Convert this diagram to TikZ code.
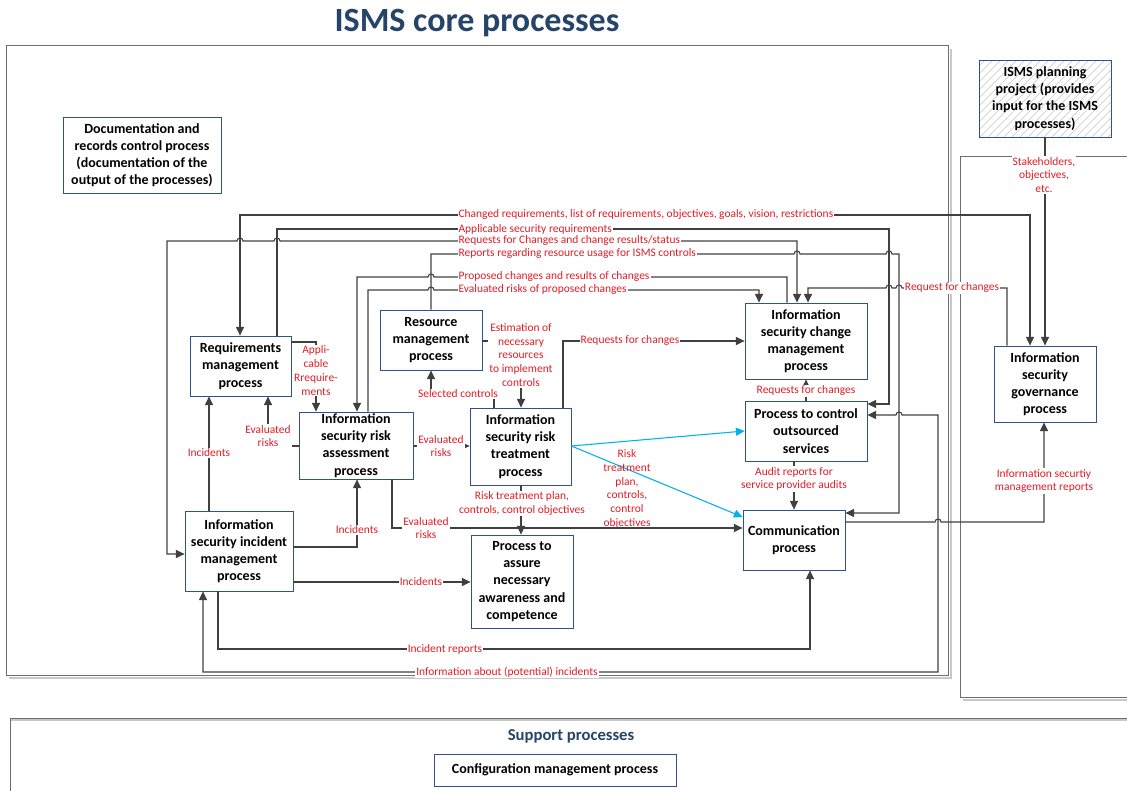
\documentclass[tikz,border=0pt]{standalone}
\usepackage{fontspec}
\setmainfont{Carlito}
\usetikzlibrary{arrows.meta}
\definecolor{titleblue}{RGB}{38,68,105}
\definecolor{boxblue}{RGB}{47,82,143}
\definecolor{lblred}{RGB}{222,30,40}
\definecolor{linegray}{RGB}{64,64,64}
\definecolor{framegray}{RGB}{110,110,110}
\definecolor{shadegray}{RGB}{200,200,200}
\definecolor{flowblue}{RGB}{0,176,240}
\newcommand{\ismsboxfont}{\fontsize{10.5}{12.9}\selectfont\bfseries}
\newcommand{\ismslblfont}{\fontsize{8.6}{10.3}\selectfont}
\tikzset{every picture/.style={line width=0.75pt}}
\tikzset{
  box/.style 2 args={draw=boxblue, line width=0.6pt, fill=white, minimum width=#1*0.75pt, minimum height=#2*0.75pt, inner sep=1pt, align=center, font=\ismsboxfont},
  lbl/.style={text=lblred, fill=white, inner sep=0.8pt, align=center, font=\ismslblfont},
  conn/.style={draw=linegray, line width=0.8pt, >={Triangle[length=6.5pt,width=6pt]}},
  flow/.style={draw=flowblue, line width=0.8pt, >={Triangle[length=6.5pt,width=6pt]}},
  coreframe/.style={draw=framegray, line width=0.75pt},
  frameshadow/.style={draw=shadegray, line width=2pt}
}

\begin{document}
\begin{tikzpicture}[x=0.75pt,y=0.75pt,yscale=-1,xscale=1]
\useasboundingbox (0,0) rectangle (1127,791);

% Text Node
\node[font=\fontsize{25.5}{30}\selectfont\bfseries, text=titleblue] (title) at (477,23) {ISMS core processes};

%Shape: Core frame
\draw[frameshadow] (951,49) -- (951,678) -- (9,678);
\draw[coreframe] (6,46) rectangle (948,675);
%Shape: Right frame
\draw[frameshadow] (963,700) -- (1127,700);
\draw[coreframe] (1127,157) -- (960,157) -- (960,697) -- (1127,697);
%Shape: Support frame
\draw[frameshadow] (10,720) -- (1127,720);
\draw[coreframe] (1127,718) -- (10,718) -- (10,791);

%Shape: hatching of the planning box
\begin{scope}
\clip (979,60) rectangle (1111,137);
\foreach \k in {900,908,...,1112}
  \draw[gray!45, line width=0.4pt] (\k,137) -- (\k+77,60);
\end{scope}

%Shape: Process boxes
\node[box={158}{76}] (doc) at (142,155) {Documentation and\\records control process\\(documentation of the\\output of the processes)};
\node[box={132}{77}, fill=none] (plan) at (1045,98.5) {ISMS planning\\project (provides\\input for the ISMS\\processes)};
\node[box={102}{76}] (gov) at (1045,384) {Information\\security\\governance\\process};
\node[box={101}{60}] (req) at (240.5,366) {Requirements\\management\\process};
\node[box={102}{60}] (res) at (431,340) {Resource\\management\\process};
\node[box={114}{67}] (assess) at (356,445.5) {Information\\security risk\\assessment\\process};
\node[box={101}{77}] (treat) at (520.5,446.5) {Information\\security risk\\treatment\\process};
\node[box={122}{76}] (change) at (806,341) {Information\\security change\\management\\process};
\node[box={122}{60}] (outsrc) at (806,431) {Process to control\\outsourced\\services};
\node[box={102}{60}] (comm) at (794,540) {Communication\\process};
\node[box={108}{80}] (incid) at (239,551) {Information\\security incident\\management\\process};
\node[box={102}{93}] (aware) at (522,581.5) {Process to\\assure\\necessary\\awareness and\\competence};
\node[box={242}{32}] (config) at (555,770) {Configuration management process};
% Text Node
\node[font=\fontsize{12.5}{15}\selectfont\bfseries, text=titleblue] (support) at (571,736) {Support processes};

%Straight Lines: top bus
\draw[conn,<->] (req.north -| 240,0) |- (1030,215) -- (gov.north -| 1030,0);
\draw[conn,->] (req.north -| 277,0) |- (889,229) |- (outsrc.east |- 0,404);
\draw[conn,<->] (incid.west |- 0,554) -| (167,241) -- (237,241) .. controls (237,237) and (243,237) .. (243,241) -- (274,241) .. controls (274,237) and (280,237) .. (280,241) -| (change.north -| 797,0);
\draw[conn,->] (res.north -| 431,0) |- (794,254) .. controls (794,250) and (800,250) .. (800,254) -- (886,254) .. controls (886,250) and (892,250) .. (892,254) -| (899,513) -- (comm.east |- 0,513);
\draw[conn,->] (change.north -| 787,0) |- (434,277) .. controls (434,273) and (428,273) .. (428,277) -| (assess.north -| 357,0);
\draw[conn,->] (assess.north -| 368,0) |- (428,290) .. controls (428,286) and (434,286) .. (434,290) -| (change.north -| 759,0);
\draw[conn,->] (gov.north -| 1007,0) |- (902,288) .. controls (902,284) and (896,284) .. (896,288) -- (892,288) .. controls (892,284) and (886,284) .. (886,288) -| (change.north -| 808,0);
\draw[conn,->] (plan.south) -- (gov.north);

%Straight Lines: inner flows
\draw[conn,->] (req.east |- 0,342) -| (assess.north -| 316,0);
\draw[conn,->] (assess.west |- 0,446) -| (req.south -| 268,0);
\draw[conn,->] (incid.north -| 209,0) -- (req.south -| 209,0);
\draw[conn,->] (assess.east |- 0,446) -- (treat.west |- 0,446);
\draw[conn,->] (treat.north -| 494,0) |- (431,394) -- (res.south -| 431,0);
\draw[conn,->] (res.east |- 0,341) -| (treat.north -| 521,0);
\draw[conn,->] (treat.north -| 563,0) |- (change.west |- 0,341);
\draw[flow,->] (treat.east |- 0,446) -- (outsrc.west |- 0,431);
\draw[flow,->] (treat.east |- 0,446) -- (comm.west |- 0,517);
\draw[conn,->] (outsrc.north) -- (change.south);
\draw[conn,->] (outsrc.south -| comm.north) -- (comm.north);
\draw[conn,->] (incid.east |- 0,547) -| (assess.south -| 357,0);
\draw[conn,->] (assess.south -| 392,0) |- (comm.west |- 0,528);
\draw[conn,->] (treat.south -| 521,0) -- (aware.north -| 521,0);
\draw[conn,->] (incid.east |- 0,582) -- (aware.west |- 0,582);

%Straight Lines: bottom loops
\draw[conn,->] (incid.south -| 218,0) |- (810,649) -- (comm.south -| 810,0);
\draw[conn,<->] (incid.south -| 203,0) |- (938,672) -- (938,415) -- (902,415) .. controls (902,411) and (896,411) .. (896,415) -- (outsrc.east |- 0,415);
\draw[conn,->] (comm.east |- 0,522) -- (935,522) .. controls (935,518) and (941,518) .. (941,522) -| (gov.south -| 1044,0);

% Text Node: flow labels
\node[lbl, anchor=west] (lchg) at (457,215) {Changed requirements, list of requirements, objectives, goals, vision, restrictions};
\node[lbl, anchor=west] (lapp) at (457,229) {Applicable security requirements};
\node[lbl, anchor=west] (lrfc) at (457,241) {Requests for Changes and change results/status};
\node[lbl, anchor=west] (lrep) at (457,254) {Reports regarding resource usage for ISMS controls};
\node[lbl, anchor=west] (lprop) at (457,277) {Proposed changes and results of changes};
\node[lbl, anchor=west] (levp) at (457,290) {Evaluated risks of proposed changes};
\node[lbl] (lreqg) at (952,288) {Request for changes};
\node[lbl] (lstake) at (1044,175) {Stakeholders,\\objectives,\\etc.};
\node[lbl] (lgovrep) at (1044,481) {Information securtiy\\management reports};
\node[lbl] (lappreq) at (316,370.5) {Appli-\\cable\\Rrequire-\\ments};
\node[lbl] (levreq) at (268,436) {Evaluated\\risks};
\node[lbl] (lincreq) at (209,453) {Incidents};
\node[lbl] (levtrt) at (441,446) {Evaluated\\risks};
\node[lbl] (lsel) at (458,394) {Selected controls};
\node[lbl] (lest) at (521,355) {Estimation of\\necessary\\resources\\to implement\\controls};
\node[lbl] (lrfct) at (630,341) {Requests for changes};
\node[lbl] (lrfco) at (806,391) {Requests for changes};
\node[lbl] (laudit) at (794,479) {Audit reports for\\service provider audits};
\node[lbl, fill=none] (lrtp) at (627,489) {Risk\\treatment\\plan,\\controls,\\control\\objectives};
\node[lbl] (lrtpa) at (522,503.5) {Risk treatment plan,\\controls, control objectives};
\node[lbl] (lincass) at (357,530) {Incidents};
\node[lbl] (levcom) at (426,528) {Evaluated\\risks};
\node[lbl] (lincawa) at (421,582) {Incidents};
\node[lbl] (lincrep) at (445,649) {Incident reports};
\node[lbl] (linfo) at (507,672) {Information about (potential) incidents};

\end{tikzpicture}
\end{document}
